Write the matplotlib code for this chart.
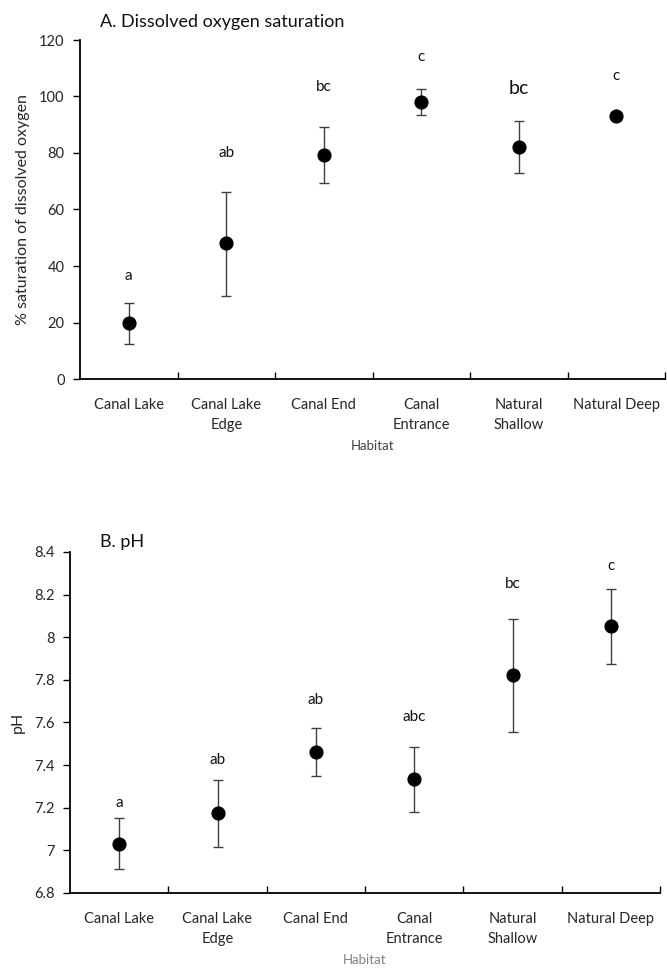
import numpy as np
import matplotlib.pyplot as plt

plt.rcParams['font.family'] = ['Lato', 'DejaVu Sans']

habitats = ['Canal Lake', 'Canal Lake\nEdge', 'Canal End', 'Canal\nEntrance',
            'Natural\nShallow', 'Natural Deep']

# A. dissolved oxygen saturation (%)
do_mean = [20.0, 48.1, 79.2, 98.2, 82.3, 93.0]
do_upper = [26.9, 66.2, 89.1, 102.6, 91.5, 94.0]
do_lower = [12.5, 29.5, 69.3, 93.5, 72.8, 92.0]
do_letters = ['a', 'ab', 'bc', 'c', 'bc', 'c']
do_letter_y = [36.5, 79.9, 103.5, 114.1, 102.9, 107.3]
do_letter_size = [11, 11, 11, 11, 14, 11]

# B. pH
ph_mean = [7.031, 7.175, 7.460, 7.335, 7.822, 8.052]
ph_upper = [7.154, 7.331, 7.576, 7.484, 8.085, 8.228]
ph_lower = [6.912, 7.017, 7.348, 7.182, 7.554, 7.874]
ph_letters = ['a', 'ab', 'ab', 'abc', 'bc', 'c']
ph_letter_y = [7.221, 7.424, 7.705, 7.624, 8.252, 8.333]

W, H = 667, 971
fig = plt.figure(figsize=(W / 100, H / 100), dpi=100)


def panel(rect, mean, upper, lower, letters, letter_y, sizes, ylim, yticks,
          yticklabels, ylabel, xlabel_color, title, title_xy):
    ax = fig.add_axes(rect)
    x = np.arange(len(mean))
    mean = np.array(mean)
    yerr = [mean - np.array(lower), np.array(upper) - mean]
    ax.errorbar(x, mean, yerr=yerr, fmt='o', color='black', ms=9.2,
                ecolor='#404040', elinewidth=1.0, capsize=3.5, capthick=1.0,
                zorder=3)
    for i, (t, yy, s) in enumerate(zip(letters, letter_y, sizes)):
        ax.text(i, yy, t, ha='center', va='center', fontsize=s, color='#111111')
    ax.set_xlim(-0.5, len(mean) - 0.5)
    ax.set_ylim(*ylim)
    ax.set_yticks(yticks)
    ax.set_yticklabels(yticklabels)
    ax.set_xticks(x)
    ax.set_xticklabels(habitats, fontsize=10.5, color='#262626', linespacing=1.5)
    ax.set_xticks(np.arange(0.5, len(mean)), minor=True)
    ax.tick_params(axis='x', which='major', length=0, pad=14)
    ax.tick_params(axis='x', which='minor', direction='in', length=5,
                   width=1.0, color='black')
    ax.tick_params(axis='y', direction='out', length=5, width=1.0,
                   labelsize=10.5, labelcolor='#262626', pad=6)
    for s in ['top', 'right']:
        ax.spines[s].set_visible(False)
    for s in ['left', 'bottom']:
        ax.spines[s].set_linewidth(1.3)
        ax.spines[s].set_color('black')
    ax.set_ylabel(ylabel, fontsize=11.5, color='#262626', labelpad=7)
    ax.set_xlabel('Habitat', fontsize=9.5, color=xlabel_color, labelpad=6)
    fig.text(title_xy[0] / W, 1 - title_xy[1] / H, title, fontsize=13,
             ha='left', va='center', color='#111111')
    return ax


panel([80 / W, 1 - 379 / H, 585 / W, 339 / H],
      do_mean, do_upper, do_lower, do_letters, do_letter_y, do_letter_size,
      (0, 120), [0, 20, 40, 60, 80, 100, 120],
      ['0', '20', '40', '60', '80', '100', '120'],
      '% saturation of dissolved oxygen', '#404040',
      'A. Dissolved oxygen saturation', (100, 22))

panel([70 / W, 1 - 893 / H, 590 / W, 341 / H],
      ph_mean, ph_upper, ph_lower, ph_letters, ph_letter_y, [11] * 6,
      (6.8, 8.4), [6.8, 7.0, 7.2, 7.4, 7.6, 7.8, 8.0, 8.2, 8.4],
      ['6.8', '7', '7.2', '7.4', '7.6', '7.8', '8', '8.2', '8.4'],
      'pH', '#808080',
      'B. pH', (100, 542))

fig.savefig('out.png', dpi=100, facecolor='white')
